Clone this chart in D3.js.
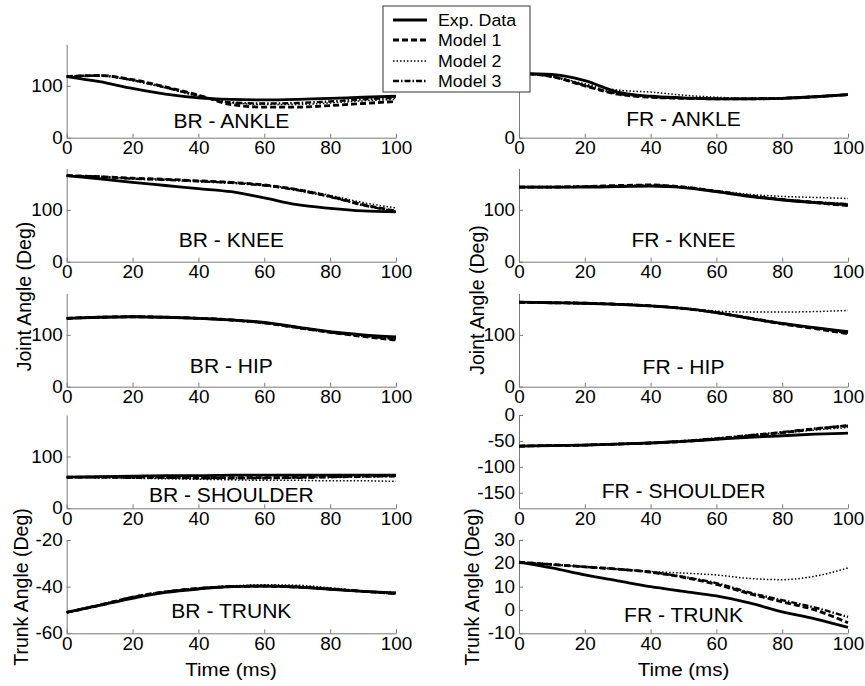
<!DOCTYPE html>
<html>
<head>
    <meta charset="utf-8">
    <title>Joint angles</title>
    <script src="https://d3js.org/d3.v7.min.js"></script>
    <style>
        body { margin: 0; background: #fff; }
        svg { font-family: "Liberation Sans", Arial, sans-serif; }
        .axis path, .axis line { stroke: #7a7a7a; }
        .axis text { fill: #000; }
    </style>
</head>
<body>
    <svg id="chart"></svg>
    <script>
        // time samples (ms)
        const time = [0, 10, 20, 30, 40, 50, 60, 70, 80, 90, 100];
        const seriesNames = ["Exp. Data", "Model 1", "Model 2", "Model 3"];
        const xTicks = [0, 20, 40, 60, 80, 100];

        // each panel: [exp, model 1, model 2, model 3]
        const brAnkle = [
            [118, 108, 95, 84, 77, 74, 73, 74, 76, 78, 80],
            [118, 120, 112, 98, 82, 64, 59, 59, 62, 66, 70],
            [118, 119, 110, 96, 80, 68, 64, 64, 67, 71, 74],
            [118, 120, 111, 97, 81, 68, 66, 67, 70, 74, 77]
        ];
        const frAnkle = [
            [124, 122, 110, 88, 80, 77, 75, 75, 76, 79, 83],
            [124, 118, 100, 84, 78, 76, 75, 75, 76, 79, 83],
            [124, 118, 104, 92, 88, 82, 78, 76, 77, 80, 84],
            [124, 118, 101, 85, 79, 76, 75, 75, 76, 79, 83]
        ];
        const brKnee = [
            [166, 160, 153, 147, 141, 135, 123, 110, 103, 98, 96],
            [166, 164, 161, 159, 156, 153, 148, 139, 126, 110, 98],
            [166, 164, 161, 159, 156, 153, 148, 140, 128, 114, 104],
            [166, 164, 160, 158, 155, 152, 147, 138, 125, 109, 97]
        ];
        const frKnee = [
            [144, 144, 144, 145, 146, 143, 135, 126, 119, 114, 110],
            [144, 144, 145, 147, 148, 144, 136, 127, 120, 114, 108],
            [144, 144, 144, 145, 146, 143, 137, 130, 126, 124, 122],
            [144, 144, 145, 146, 147, 144, 136, 127, 120, 115, 111]
        ];
        const brHip = [
            [132, 134, 135, 134, 132, 129, 124, 115, 106, 100, 96],
            [132, 134, 135, 134, 132, 129, 123, 114, 105, 97, 90],
            [132, 134, 135, 134, 132, 129, 124, 115, 106, 99, 93],
            [132, 134, 135, 134, 132, 128, 123, 114, 105, 98, 92]
        ];
        const frHip = [
            [163, 162, 161, 159, 156, 151, 143, 132, 122, 114, 106],
            [163, 162, 161, 159, 156, 151, 143, 132, 121, 112, 102],
            [163, 162, 161, 159, 156, 152, 146, 144, 144, 145, 147],
            [163, 162, 161, 159, 156, 151, 143, 133, 122, 113, 104]
        ];
        const brShoulder = [
            [60, 61, 62, 63, 63, 64, 64, 64, 64, 64, 64],
            [60, 60, 60, 60, 59, 59, 59, 60, 61, 62, 63],
            [60, 59, 58, 57, 56, 55, 54, 54, 53, 53, 52],
            [60, 60, 59, 59, 58, 58, 58, 59, 60, 61, 62]
        ];
        const frShoulder = [
            [-60, -59, -58, -56, -54, -51, -47, -43, -40, -37, -35],
            [-60, -59, -58, -56, -54, -51, -46, -40, -34, -27, -21],
            [-60, -59, -58, -56, -54, -51, -46, -41, -35, -29, -24],
            [-60, -59, -58, -56, -54, -50, -45, -39, -33, -26, -20]
        ];
        const brTrunk = [
            [-51, -48, -45, -42.5, -41, -40, -39.8, -40.2, -41.2, -42, -42.7],
            [-51, -48, -44.5, -42.2, -40.8, -40, -39.8, -40.2, -41, -42, -43],
            [-51, -48, -44.8, -42.4, -40.8, -39.7, -39.2, -39.4, -40.5, -41.8, -42.5],
            [-51, -47.8, -44.5, -42.2, -40.7, -39.9, -39.7, -40, -41, -42, -43]
        ];
        const frTrunk = [
            [20.5, 18, 15, 12.5, 10, 8, 6, 3, -0.8, -3.8, -7.5],
            [20.5, 19.5, 18.5, 17.5, 16.2, 14, 11, 7, 3.5, 0, -5.5],
            [20.5, 19.5, 18.5, 17.5, 16.5, 15.8, 15, 13.5, 13, 14.5, 18],
            [20.5, 19.5, 18.5, 17.5, 16.3, 14.2, 11.5, 7.5, 4.2, 1, -3]
        ];

        // FR - ANKLE's "100" is hidden under the legend in the source figure
        const panels = [
            { title: "BR - ANKLE", col: 0, row: 0, domain: [0, 180], ticks: [0, 100], data: brAnkle, tdy: 9.5 },
            { title: "FR - ANKLE", col: 1, row: 0, domain: [0, 180], ticks: [0], data: frAnkle, tdy: 12 },
            { title: "BR - KNEE", col: 0, row: 1, domain: [0, 180], ticks: [0, 100], data: brKnee, tdy: 14.4 },
            { title: "FR - KNEE", col: 1, row: 1, domain: [0, 180], ticks: [0, 100], data: frKnee, tdy: 14.4 },
            { title: "BR - HIP", col: 0, row: 2, domain: [0, 180], ticks: [0, 100], data: brHip, tdy: 14 },
            { title: "FR - HIP", col: 1, row: 2, domain: [0, 180], ticks: [0, 100], data: frHip, tdy: 12.4 },
            { title: "BR - SHOULDER", col: 0, row: 3, domain: [0, 180], ticks: [0, 100], data: brShoulder, tdy: 6.6 },
            { title: "FR - SHOULDER", col: 1, row: 3, domain: [-180, 0], ticks: [-150, -100, -50, 0], data: frShoulder, tdy: 10 },
            { title: "BR - TRUNK", col: 0, row: 4, domain: [-60, -20], ticks: [-60, -40, -20], data: brTrunk, tdy: 15 },
            { title: "FR - TRUNK", col: 1, row: 4, domain: [-10, 30], ticks: [-10, 0, 10, 20, 30], data: frTrunk, tdy: 11.6 }
        ];

        const width = 865, height = 686;
        const colX = [[66.7, 396], [519, 848]];
        const rowBottom = [137.7, 261.7, 386.7, 508.3, 633.3];
        const panelH = 93.3;
        const sx = 1.08; // the source figure is slightly stretched sideways

        const styles = [
            { w: 2.8, dash: null },
            { w: 2.8, dash: "6,3" },
            { w: 1.5, dash: "1.5,2" },
            { w: 2.4, dash: "6,2,1.5,2" }
        ];

        const svg = d3.select("#chart")
            .attr("width", width)
            .attr("height", height)
            .attr("viewBox", [0, 0, width, height]);

        function stretchedText(g, x, y, txt, size, anchor, rotate) {
            return g.append("text")
                .attr("transform", `translate(${x},${y})` + (rotate ? ` rotate(${rotate})` : ` scale(${sx},1)`))
                .attr("text-anchor", anchor || "middle")
                .style("font-size", size + "px")
                .text(txt);
        }

        const plain = d => String(d); // plain hyphen minus, as in the source

        panels.forEach(p => {
            const x = d3.scaleLinear().domain([0, 100]).range(colX[p.col]);
            const y = d3.scaleLinear().domain(p.domain).range([rowBottom[p.row], rowBottom[p.row] - panelH]);
            const g = svg.append("g");

            const xAxis = g.append("g")
                .attr("class", "axis")
                .attr("transform", `translate(0,${rowBottom[p.row]})`)
                .call(d3.axisBottom(x).tickValues(xTicks).tickFormat(plain).tickSizeInner(-4).tickSizeOuter(0).tickPadding(4));
            xAxis.selectAll("text")
                .style("font-size", "17.5px")
                .attr("transform", `scale(${sx},1)`);

            const yAxis = g.append("g")
                .attr("class", "axis")
                .attr("transform", `translate(${colX[p.col][0]},0)`)
                .call(d3.axisLeft(y).tickValues(p.ticks).tickFormat(plain).tickSizeInner(-4).tickSizeOuter(0).tickPadding(3.7));
            yAxis.selectAll("text")
                .style("font-size", "17.5px")
                .attr("transform", `scale(${sx},1)`);
            g.selectAll(".axis .domain").attr("fill", "none");

            const line = d3.line()
                .x((d, i) => x(time[i]))
                .y(d => y(d))
                .curve(d3.curveMonotoneX);

            [1, 2, 3, 0].forEach(k => {
                g.append("path")
                    .attr("d", line(p.data[k]))
                    .attr("fill", "none")
                    .attr("stroke", "#000")
                    .attr("stroke-width", styles[k].w)
                    .attr("stroke-dasharray", styles[k].dash);
            });

            stretchedText(g, (colX[p.col][0] + colX[p.col][1]) / 2, rowBottom[p.row] - p.tdy, p.title, 19.5);
        });

        // axis titles
        stretchedText(svg, 231, 676, "Time (ms)", 19);
        stretchedText(svg, 683.5, 676, "Time (ms)", 19);
        stretchedText(svg, 31, 296.5, "Joint Angle (Deg)", 19.5, "middle", -90);
        stretchedText(svg, 484, 300, "Joint Angle (Deg)", 19.5, "middle", -90);
        stretchedText(svg, 27.5, 587, "Trunk Angle (Deg)", 19.5, "middle", -90);
        stretchedText(svg, 479, 587, "Trunk Angle (Deg)", 19.5, "middle", -90);

        // legend sits over the top-right panel
        const legend = svg.append("g");
        legend.append("rect")
            .attr("x", 383).attr("y", 6).attr("width", 147).attr("height", 86)
            .attr("fill", "#fff").attr("stroke", "#333").attr("stroke-width", 1);
        const legendRows = [20, 40, 61, 81];
        seriesNames.forEach((name, k) => {
            legend.append("line")
                .attr("x1", 393).attr("x2", 427)
                .attr("y1", legendRows[k]).attr("y2", legendRows[k])
                .attr("stroke", "#000")
                .attr("stroke-width", styles[k].w)
                .attr("stroke-dasharray", styles[k].dash);
            stretchedText(legend, 438, legendRows[k] + 6, name, 16.5, "start");
        });
    </script>
</body>
</html>
